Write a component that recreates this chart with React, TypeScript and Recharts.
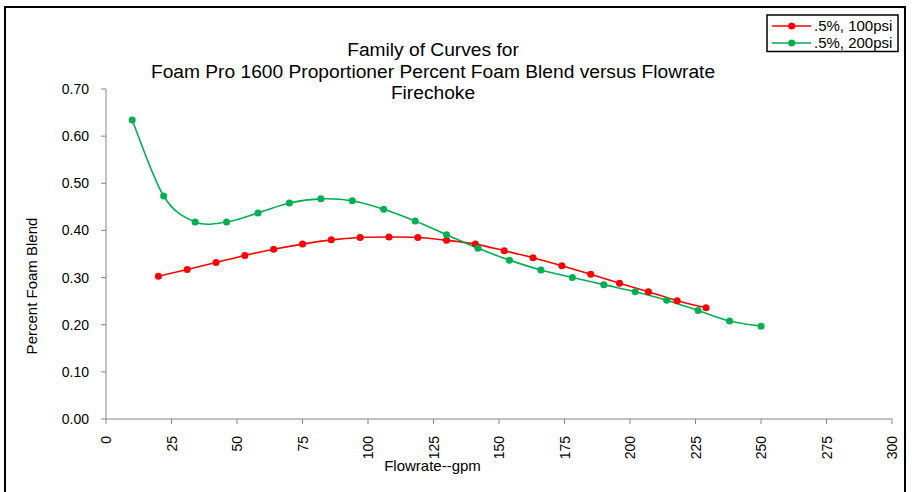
import { LineChart, Line, XAxis, YAxis } from "recharts";

// readings
const flow100 = [20, 31, 42, 53, 64, 75, 86, 97, 108, 119, 130, 141, 152, 163, 174, 185, 196, 207, 218, 229];
const blend100 = [0.303, 0.317, 0.332, 0.347, 0.36, 0.371, 0.38, 0.385, 0.386, 0.385, 0.379, 0.371, 0.357, 0.342, 0.325, 0.307, 0.288, 0.27, 0.251, 0.236];

const flow200 = [10, 22, 34, 46, 58, 70, 82, 94, 106, 118, 130, 142, 154, 166, 178, 190, 202, 214, 226, 238, 250];
const blend200 = [0.634, 0.473, 0.418, 0.418, 0.437, 0.458, 0.467, 0.463, 0.445, 0.42, 0.391, 0.362, 0.337, 0.316, 0.3, 0.285, 0.27, 0.252, 0.23, 0.208, 0.197];

const xTicks = [0, 25, 50, 75, 100, 125, 150, 175, 200, 225, 250, 275, 300];
const yTicks = [0, 0.1, 0.2, 0.3, 0.4, 0.5, 0.6, 0.7];

const titleLines = ["Family of Curves for", "Foam Pro 1600 Proportioner Percent Foam Blend versus Flowrate", "Firechoke"];
const seriesNames = [".5%, 100psi", ".5%, 200psi"];
const seriesColors = ["#ff0000", "#00b050"];

const data100 = flow100.map((x, i) => ({ x, y: blend100[i] }));
const data200 = flow200.map((x, i) => ({ x, y: blend200[i] }));

const FONT = "'Liberation Sans', Arial, sans-serif";
const AXIS_GREY = "#868686";

// Excel style smoothed line (Catmull-Rom through the points)
const excelSmooth = (context: any) => {
    let pts: number[][] = [];
    return {
        areaStart() {},
        areaEnd() {},
        lineStart() {
            pts = [];
        },
        point(x: number, y: number) {
            pts.push([+x, +y]);
        },
        lineEnd() {
            if (!pts.length) return;
            context.moveTo(pts[0][0], pts[0][1]);
            for (let i = 0; i < pts.length - 1; i++) {
                const p0 = pts[i - 1] || pts[i];
                const p1 = pts[i];
                const p2 = pts[i + 1];
                const p3 = pts[i + 2] || p2;
                context.bezierCurveTo(
                    p1[0] + (p2[0] - p0[0]) / 6,
                    p1[1] + (p2[1] - p0[1]) / 6,
                    p2[0] - (p3[0] - p1[0]) / 6,
                    p2[1] - (p3[1] - p1[1]) / 6,
                    p2[0],
                    p2[1]
                );
            }
        },
    };
};

const XTick = (props: any) => {
    const { x, y, payload } = props;
    const ty = y + 12;
    return (
        <text
            x={x}
            y={ty}
            transform={`rotate(-90, ${x}, ${ty})`}
            textAnchor="end"
            dy="0.36em"
            fontSize={14}
            fontFamily={FONT}
            fill="#000"
        >
            {payload.value}
        </text>
    );
};

export default function App() {
    return (
        <div style={{ position: "absolute", left: 0, top: 0, width: 917, height: 492, background: "#fff", overflow: "hidden" }}>
            <LineChart width={917} height={492} margin={{ top: 89, right: 25, bottom: 33, left: 0 }}>
                <XAxis
                    type="number"
                    dataKey="x"
                    domain={[0, 300]}
                    ticks={xTicks}
                    allowDataOverflow
                    height={40}
                    stroke={AXIS_GREY}
                    tickSize={5}
                    tickMargin={0}
                    tick={<XTick />}
                />
                <YAxis
                    type="number"
                    dataKey="y"
                    domain={[0, 0.7]}
                    ticks={yTicks}
                    width={106}
                    stroke={AXIS_GREY}
                    tickSize={5}
                    tickMargin={12}
                    tickFormatter={(v: number) => v.toFixed(2)}
                    tick={{ fill: "#000", fontSize: 14, fontFamily: FONT }}
                />
                <Line
                    data={data100}
                    dataKey="y"
                    name={seriesNames[0]}
                    type={excelSmooth as any}
                    stroke={seriesColors[0]}
                    strokeWidth={1.6}
                    dot={{ r: 3.5, fill: seriesColors[0], stroke: seriesColors[0], strokeWidth: 0 }}
                    isAnimationActive={false}
                />
                <Line
                    data={data200}
                    dataKey="y"
                    name={seriesNames[1]}
                    type={excelSmooth as any}
                    stroke={seriesColors[1]}
                    strokeWidth={1.6}
                    dot={{ r: 3.5, fill: seriesColors[1], stroke: seriesColors[1], strokeWidth: 0 }}
                    isAnimationActive={false}
                />
            </LineChart>
            <svg width={917} height={492} style={{ position: "absolute", left: 0, top: 0, pointerEvents: "none" }}>
                <rect x={5} y={7} width={900} height={500} fill="none" stroke="#000" strokeWidth={2} />
                <g fontFamily={FONT} fill="#000">
                    {titleLines.map((t, i) => (
                        <text key={t} x={433} y={56 + i * 21.7} textAnchor="middle" fontSize={19.2}>
                            {t}
                        </text>
                    ))}
                    <text x={432.5} y={471} textAnchor="middle" fontSize={15}>
                        Flowrate--gpm
                    </text>
                    <text x={37} y={286} textAnchor="middle" fontSize={15} transform="rotate(-90, 37, 286)">
                        Percent Foam Blend
                    </text>
                </g>
                <rect x={767} y={15} width={131} height={36.5} fill="#fff" stroke="#000" strokeWidth={1.5} />
                {seriesNames.map((n, i) => {
                    const cy = 26 + i * 17;
                    return (
                        <g key={n}>
                            <line x1={772} x2={811} y1={cy} y2={cy} stroke={seriesColors[i]} strokeWidth={1.6} />
                            <circle cx={791.7} cy={cy} r={3.5} fill={seriesColors[i]} />
                            <text x={814} y={cy} dy="0.36em" fontSize={15} fontFamily={FONT} fill="#000">
                                {n}
                            </text>
                        </g>
                    );
                })}
            </svg>
        </div>
    );
}
